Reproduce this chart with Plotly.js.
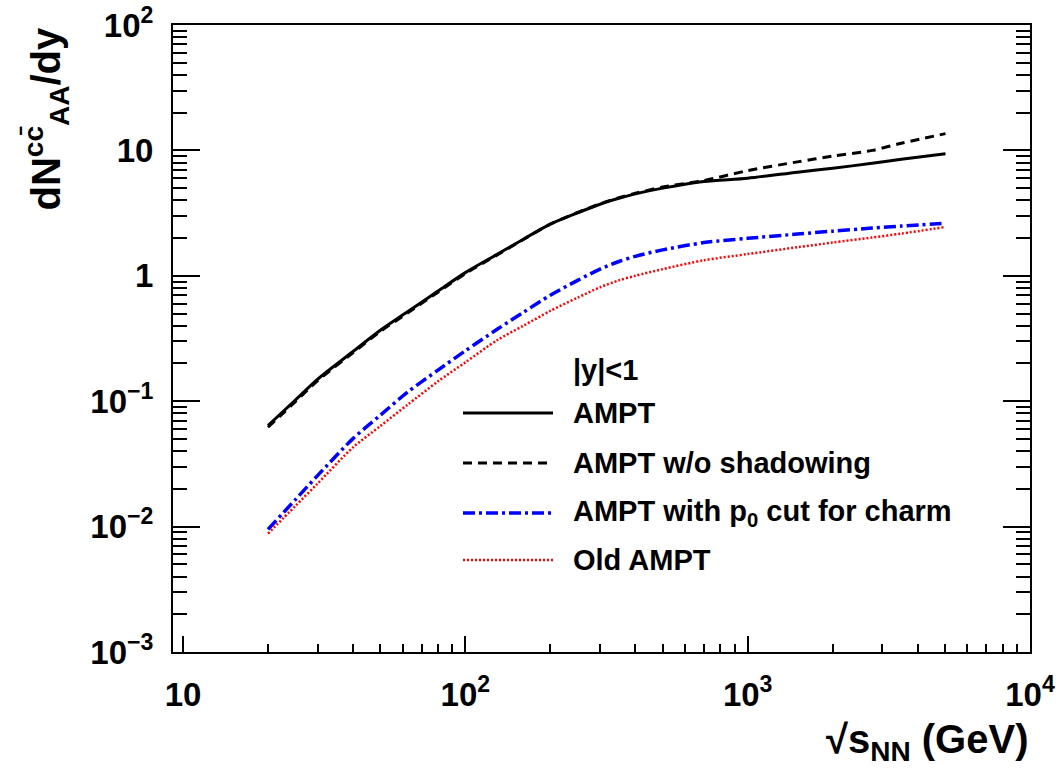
<!DOCTYPE html>
<html>
<head>
<meta charset="utf-8">
<script src="https://cdn.plot.ly/plotly-3.0.1.min.js"></script>
<style>html,body{margin:0;padding:0;background:#fff;}#chart{width:1061px;height:768px;}</style>
</head>
<body>
<div id="chart"></div>
<script>
// sqrt(s_NN) in GeV
const energies = [20, 25, 30, 40, 50, 62.4, 80, 100, 130, 160, 200, 250, 300, 350, 400, 500, 700, 1000, 1500, 2000, 2760, 3500, 5020];
// dN^{ccbar}_{AA}/dy, |y|<1
const ampt          = [0.064, 0.102, 0.150, 0.249, 0.368, 0.516, 0.755, 1.06, 1.49, 1.95, 2.58, 3.18, 3.72, 4.15, 4.5, 5.0, 5.65, 6.0, 6.7, 7.2, 7.9, 8.5, 9.4];
const amptNoShadow  = [0.062, 0.099, 0.146, 0.243, 0.360, 0.505, 0.740, 1.04, 1.47, 1.94, 2.58, 3.20, 3.75, 4.2, 4.55, 5.1, 5.75, 6.9, 8.1, 9.0, 10.0, 11.4, 13.6];
const amptP0Cut     = [0.0095, 0.0164, 0.0256, 0.0503, 0.0773, 0.118, 0.177, 0.252, 0.376, 0.509, 0.70, 0.92, 1.13, 1.30, 1.43, 1.61, 1.84, 1.99, 2.15, 2.27, 2.40, 2.49, 2.62];
const oldAmpt       = [0.0088, 0.0146, 0.0221, 0.0428, 0.0634, 0.0936, 0.144, 0.204, 0.308, 0.398, 0.525, 0.67, 0.81, 0.92, 1.0, 1.13, 1.33, 1.49, 1.69, 1.84, 2.02, 2.17, 2.45];

const seriesNames = ["AMPT", "AMPT w/o shadowing", "AMPT with p<sub>0</sub> cut for charm", "Old AMPT"];
const legendHeader = "|y|<1";

const xTickVals = [10, 100, 1000, 10000];
const xTickText = ["10", "10<sup>2</sup>", "10<sup>3</sup>", "10<sup>4</sup>"];
const yTickVals = [0.001, 0.01, 0.1, 1, 10, 100];
const yTickText = ["10<sup>\u22123</sup>", "10<sup>\u22122</sup>", "10<sup>\u22121</sup>", "1", "10", "10<sup>2</sup>"];

function minorVals(d0, d1) {
  const v = [];
  for (let d = d0; d < d1; d++) for (let k = 2; k <= 9; k++) v.push(k * Math.pow(10, d));
  return v;
}

const FONT = '"Liberation Sans", Arial, Helvetica, sans-serif';
const styles = [
  {color: '#000000', width: 3, dash: 'solid'},
  {color: '#000000', width: 3, dash: '9px,6px'},
  {color: '#0000ff', width: 3.5, dash: '12px,4px,3px,4px'},
  {color: '#ff0000', width: 2.5, dash: '2px,2px'}
];
const ys = [ampt, amptNoShadow, amptP0Cut, oldAmpt];

const traces = ys.map((y, i) => ({
  x: energies, y: y, type: 'scatter', mode: 'lines', name: seriesNames[i],
  line: {color: styles[i].color, width: styles[i].width, dash: styles[i].dash, shape: 'spline', smoothing: 0.8},
  showlegend: false, hoverinfo: 'x+y'
}));

// manual legend (ROOT style, no box)
const L = 173, W = 857, B = 652, H = 627;
const px2x = p => (p - L) / W;
const py2y = p => (B - p) / H;
const legendRows = [413, 463, 513, 560];
const shapes = [];
const annotations = [];
annotations.push({xref: 'paper', yref: 'paper', x: px2x(571), y: py2y(370), xanchor: 'left', yanchor: 'middle',
  text: legendHeader, showarrow: false, font: {family: FONT, size: 29, color: '#000', weight: 'bold'}});
legendRows.forEach((py, i) => {
  shapes.push({type: 'line', xref: 'paper', yref: 'paper', x0: px2x(463), x1: px2x(553), y0: py2y(py), y1: py2y(py),
    line: {color: styles[i].color, width: styles[i].width, dash: styles[i].dash}});
  annotations.push({xref: 'paper', yref: 'paper', x: px2x(571), y: py2y(py), xanchor: 'left', yanchor: 'middle',
    text: seriesNames[i], showarrow: false, font: {family: FONT, size: 29, color: '#000', weight: 'bold'}});
});
// axis titles (ROOT style: right / top aligned)
annotations.push({xref: 'paper', yref: 'paper', x: px2x(16), y: py2y(26), xanchor: 'left', yanchor: 'top', textangle: -90,
  text: 'dN<sup>c\u0063\u0304</sup><sub>AA</sub>/dy', showarrow: false, font: {family: FONT, size: 40, color: '#000', weight: 'bold'}});
annotations.push({xref: 'paper', yref: 'paper', x: 1, y: py2y(742), xanchor: 'right', yanchor: 'middle',
  text: '\u221As<sub>NN</sub> (GeV)', showarrow: false, font: {family: FONT, size: 40, color: '#000', weight: 'bold'}});

const layout = {
  width: 1061, height: 768,
  margin: {l: 173, r: 31, t: 25, b: 116},
  paper_bgcolor: '#fff', plot_bgcolor: '#fff',
  font: {family: FONT, color: '#000', weight: 'bold'},
  showlegend: false,
  xaxis: {
    type: 'log', range: [1 - 10 / 282.3, 4],
    showgrid: false, zeroline: false,
    showline: true, linecolor: '#000', linewidth: 2, mirror: true,
    ticks: 'inside', ticklen: 16, tickwidth: 2, tickcolor: '#000',
    tickmode: 'array', tickvals: xTickVals, ticktext: xTickText,
    tickfont: {family: FONT, size: 33, color: '#000', weight: 'bold'},
    ticklabelstandoff: 12,
    minor: {ticks: 'inside', ticklen: 8, tickwidth: 2, tickcolor: '#000', tickmode: 'array', tickvals: minorVals(1, 4), showgrid: false}
  },
  yaxis: {
    type: 'log', range: [-3, 2],
    showgrid: false, zeroline: false,
    showline: true, linecolor: '#000', linewidth: 2, mirror: 'ticks',
    ticks: 'inside', ticklen: 27, tickwidth: 2, tickcolor: '#000',
    tickmode: 'array', tickvals: yTickVals, ticktext: yTickText,
    tickfont: {family: FONT, size: 33, color: '#000', weight: 'bold'},
    ticklabelstandoff: 11,
    minor: {ticks: 'inside', ticklen: 14, tickwidth: 2, tickcolor: '#000', tickmode: 'array', tickvals: minorVals(-3, 2), showgrid: false}
  },
  shapes: shapes,
  annotations: annotations
};

Plotly.newPlot('chart', traces, layout, {displayModeBar: false, staticPlot: true});
</script>
</body>
</html>
